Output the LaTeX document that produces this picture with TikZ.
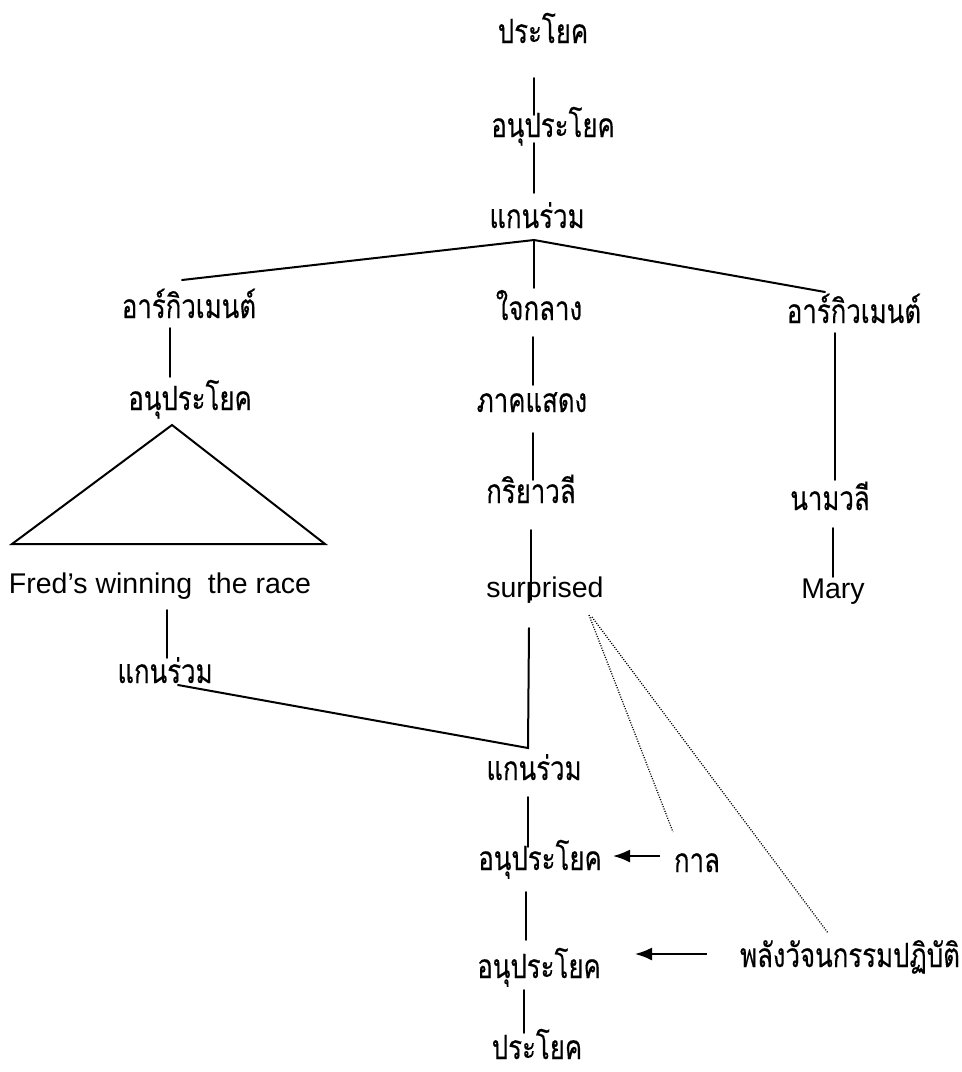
\documentclass[tikz,border=0pt]{standalone}
\usepackage{fontspec}
\setmainfont{Liberation Sans}
\newfontfamily\thaifont[Script=Thai,FakeStretch=0.77,FakeBold=0.3]{Loma}
\usetikzlibrary{arrows.meta}
\begin{document}
\begin{tikzpicture}[x=1pt,y=-1pt,
  th/.style={font=\thaifont\fontsize{33.5}{40}\selectfont, inner sep=0pt, anchor=base},
  en/.style={font=\fontsize{28.5}{34}\selectfont, inner sep=0pt, anchor=base},
  ln/.style={line width=1.6pt, line cap=round},
  br/.style={line width=2pt, line cap=round},
  dt/.style={line width=1.3pt, dash pattern=on 1pt off 1.5pt},
  arr/.style={-{Latex[length=17pt,width=13pt]}, line width=1.8pt}]
\fill[white] (0,0) rectangle (962,1072);
\useasboundingbox (0,0) rectangle (962,1072);
% nodes
\node[th] (s1) at (543,43) {ประโยค};
\node[th] (c1) at (553,137) {อนุประโยค};
\node[th] (k1) at (537,228) {แกนร่วม};
\node[th] (argL) at (189,318) {อาร์กิวเมนต์};
\node[th] (core) at (539,320) {ใจกลาง};
\node[th] (argR) at (854,323) {อาร์กิวเมนต์};
\node[th] (c2) at (190,410) {อนุประโยค};
\node[th] (pred) at (532,412) {ภาคแสดง};
\node[th] (vp) at (531,503) {กริยาวลี};
\node[th] (np) at (830,510) {นามวลี};
\node[en] (fred) at (160,593) {Fred's winning\ \ the race};
\node[en] (surp) at (545,597) {surprised};
\node[en] (mary) at (833,598) {Mary};
\node[th] (k2) at (165,683) {แกนร่วม};
\node[th] (k3) at (534,780) {แกนร่วม};
\node[th] (c3) at (540,870) {อนุประโยค};
\node[th] (tense) at (697,872) {กาล};
\node[th] (c4) at (539,978) {อนุประโยค};
\node[th] (force) at (850,967) {พลังวัจนกรรมปฏิบัติ};
\node[th] (s2) at (537,1059) {ประโยค};
% coordinates
\coordinate (a1) at (534,78);   \coordinate (a2) at (534,115);
\coordinate (b1) at (534,143);  \coordinate (b2) at (534,193);
\coordinate (apex) at (534,240);
\coordinate (brL) at (182,280); \coordinate (brR) at (825,292); \coordinate (brC) at (534,288);
\coordinate (d1) at (170,328);  \coordinate (d2) at (170,377);
\coordinate (e1) at (533,337);  \coordinate (e2) at (533,385);
\coordinate (f1) at (835,333);  \coordinate (f2) at (835,480);
\coordinate (t1) at (172,425);  \coordinate (t2) at (12,544);  \coordinate (t3) at (325,544);
\coordinate (g1) at (533,433);  \coordinate (g2) at (533,480);
\coordinate (h1) at (531,530);  \coordinate (h2) at (531,600);
\coordinate (i1) at (833,528);  \coordinate (i2) at (833,577);
\coordinate (j1) at (167,610);  \coordinate (j2) at (167,658);
\coordinate (m1) at (178,685);  \coordinate (mj) at (528,748);  \coordinate (m2) at (529,628);
\coordinate (n1) at (528,797);  \coordinate (n2) at (528,847);
\coordinate (o1) at (526,892);  \coordinate (o2) at (526,940);
\coordinate (p1) at (524,990);  \coordinate (p2) at (524,1033);
\coordinate (q1) at (660,856);  \coordinate (q2) at (613,856);
\coordinate (r1) at (707,954);  \coordinate (r2) at (635,954);
\coordinate (u1) at (589,615);  \coordinate (u2) at (673,832);
\coordinate (v1) at (592,617);  \coordinate (v2) at (828,933);
% lines
\draw[ln] (a1) -- (a2);
\draw[ln] (b1) -- (b2);
\draw[br] (brL) -- (apex) -- (brR);
\draw[ln] (apex) -- (brC);
\draw[ln] (d1) -- (d2);
\draw[ln] (e1) -- (e2);
\draw[ln] (f1) -- (f2);
\draw[br, line join=miter] (t1) -- (t2) -- (t3) -- cycle;
\draw[ln] (g1) -- (g2);
\draw[ln] (h1) -- (h2);
\draw[ln] (i1) -- (i2);
\draw[ln] (j1) -- (j2);
\draw[br] (m1) -- (mj) -- (m2);
\draw[ln] (n1) -- (n2);
\draw[ln] (o1) -- (o2);
\draw[ln] (p1) -- (p2);
\draw[arr] (q1) -- (q2);
\draw[arr] (r1) -- (r2);
\draw[dt] (u1) -- (u2);
\draw[dt] (v1) -- (v2);
\end{tikzpicture}
\end{document}
